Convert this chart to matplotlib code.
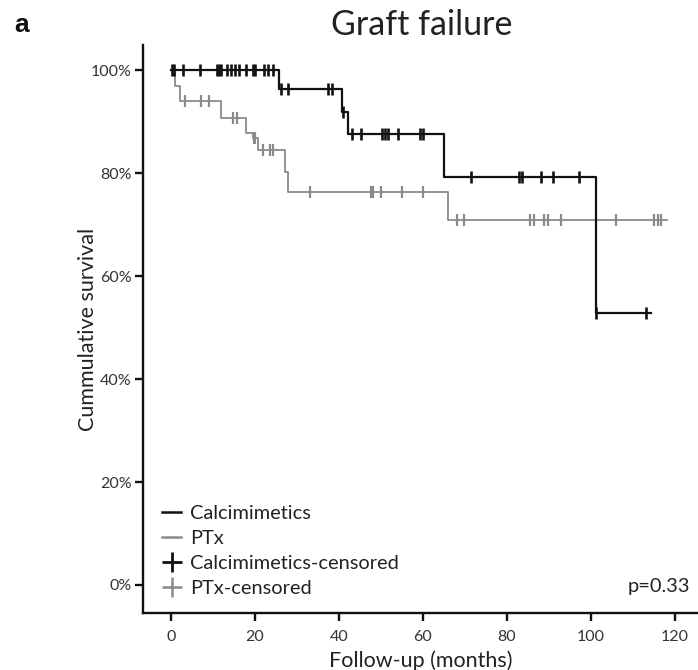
import numpy as np
import matplotlib
matplotlib.use("Agg")
import matplotlib.pyplot as plt
from matplotlib.lines import Line2D

plt.rcParams["font.family"] = ["Lato", "DejaVu Sans"]

# Kaplan-Meier step data (months, % surviving)
calc_times = [0, 25.8, 40.8, 42.1, 65.1, 101.1]
calc_surv = [100, 96.3, 91.9, 87.6, 79.2, 52.8]
calc_end = 114.4
calc_censored = [0.2, 0.8, 2.9, 7.0, 11.0, 11.5, 11.8, 13.3, 14.3, 15.2, 16.3,
                 17.9, 19.6, 20.0, 22.1, 23.2, 24.2, 26.1, 27.8, 37.5, 38.3,
                 40.9, 43.2, 45.2, 50.2, 51.0, 51.7, 54.1, 59.3, 60.1, 71.4,
                 82.9, 83.7, 88.1, 91.0, 97.1, 101.3, 113.2]

ptx_times = [0, 1.0, 2.1, 11.9, 17.8, 19.6, 20.8, 27.1, 27.9, 66.0]
ptx_surv = [100, 96.9, 94.0, 90.8, 87.8, 86.9, 84.6, 80.3, 76.4, 71.0]
ptx_end = 118.2
ptx_censored = [3.3, 7.1, 9.1, 14.8, 15.6, 19.7, 20.0, 22.0, 23.6, 24.4, 33.0,
                47.6, 48.0, 50.1, 55.0, 59.9, 68.0, 69.8, 85.6, 86.5, 88.8,
                89.7, 92.9, 105.9, 115.0, 115.9, 116.7]

x_ticks = [0, 20, 40, 60, 80, 100, 120]
y_ticks = [0, 20, 40, 60, 80, 100]
y_ticklabels = ["0%", "20%", "40%", "60%", "80%", "100%"]

BLACK = "#111111"
GRAY = "#8a8a8a"
TEXT = "#222222"


def surv_at(times, surv, t):
    idx = np.searchsorted(np.asarray(times), np.asarray(t), side="right") - 1
    return np.asarray(surv)[idx]


fig = plt.figure(figsize=(6.98, 6.70), dpi=100)
ax = fig.add_axes([0.2049, 0.0851, 0.7951, 0.8477])

for times, surv, end, cens, col, lw, msz, mew in [
    (ptx_times, ptx_surv, ptx_end, ptx_censored, GRAY, 1.3, 8, 1.6),
    (calc_times, calc_surv, calc_end, calc_censored, BLACK, 1.6, 9, 1.9),
]:
    xs = list(times) + [end]
    ys = list(surv) + [surv[-1]]
    ax.step(xs, ys, where="post", color=col, lw=lw, zorder=3)
    ax.plot(cens, surv_at(times, surv, cens), ls="none", marker="|",
            ms=msz, mew=mew, color=col, zorder=4)

ax.set_xlim(-6.67, 125.5)
ax.set_ylim(-5.44, 104.9)
ax.set_xticks(x_ticks)
ax.set_yticks(y_ticks)
ax.set_yticklabels(y_ticklabels)

for s in ["top", "right"]:
    ax.spines[s].set_visible(False)
for s in ["left", "bottom"]:
    ax.spines[s].set_linewidth(1.7)
    ax.spines[s].set_color(BLACK)

ax.tick_params(axis="both", direction="out", length=6, width=1.7,
               color=BLACK, labelsize=11.5, labelcolor="#333333")
ax.tick_params(axis="y", pad=2)
ax.tick_params(axis="x", pad=6)

ax.set_xlabel("Follow-up (months)", fontsize=15.5, color=TEXT, labelpad=5)
ax.set_ylabel("Cummulative survival", fontsize=15.5, color=TEXT)
ax.yaxis.set_label_coords(-0.081, 0.5)

fig.text(0.604, 0.963, "Graft failure", fontsize=24.5, ha="center",
         va="center", color=TEXT)
fig.text(0.02, 0.962, "a", fontsize=19, fontweight="bold", ha="left",
         va="center", family=["Liberation Sans", "DejaVu Sans"], color="#111111")

handles = [
    Line2D([], [], color=BLACK, lw=1.8),
    Line2D([], [], color=GRAY, lw=1.8),
    Line2D([], [], color=BLACK, lw=0, marker="+", ms=14, mew=2.0),
    Line2D([], [], color=GRAY, lw=0, marker="+", ms=14, mew=1.8),
]
labels = ["Calcimimetics", "PTx", "Calcimimetics-censored", "PTx-censored"]
ax.legend(handles, labels, loc="lower left", bbox_to_anchor=(0.008, 0.002),
          frameon=False, fontsize=14.4, handlelength=0.95, handletextpad=0.45,
          labelspacing=0.4, borderaxespad=0.35, labelcolor=TEXT)

ax.text(0.985, 0.0475, "p=0.33", transform=ax.transAxes, ha="right",
        va="center", fontsize=14.4, color=TEXT)

fig.savefig("out.png", dpi=100, facecolor="white")
